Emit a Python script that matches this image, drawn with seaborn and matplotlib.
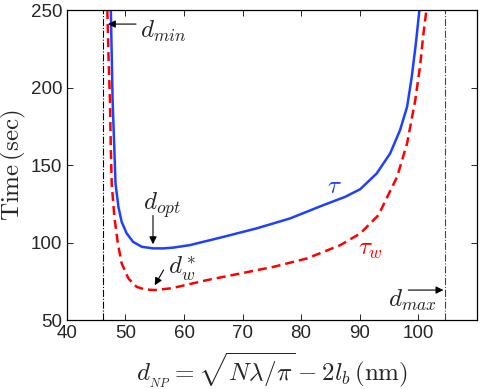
import matplotlib
matplotlib.use("Agg")
import matplotlib.pyplot as plt
import seaborn as sns
import pandas as pd

# values
tau_x = [47.5, 47.8, 48.1, 48.3, 48.8, 49.35, 50.2, 51.3, 52.8, 54.75, 56.5, 58.2,
         61.0, 66.7, 72.4, 78.1, 83.8, 87.5, 90.1, 92.9, 95.2, 96.9, 98.1, 98.9,
         99.6, 100.2]
tau_y = [250, 192, 160, 138, 123, 113.4, 106, 100.5, 97.3, 96.3, 96.3, 96.8,
         98.4, 103.7, 109.2, 115.6, 124.2, 129.5, 134.5, 144.6, 157.5, 172.6, 187.6, 207,
         228.5, 250]

tauw_x = [46.9, 47.1, 47.35, 47.5, 47.65, 48.1, 48.7, 49.35, 50.5, 51.9, 53.3, 55.0,
          57.9, 63.9, 69.6, 75.3, 81.0, 86.7, 90.1, 93.2, 96.4, 98.1, 99.5, 100.3,
          100.9, 101.4]
tauw_y = [250, 220, 192, 160, 138, 116.7, 99.5, 86.6, 76.9, 71.5, 69.8, 69.4,
          70.6, 75.8, 80.1, 84.4, 89.8, 98.4, 105.9, 117.7, 142.5, 164, 192, 213.4,
          235, 250]

d_min = 46.2
d_max = 104.6

x_ticks = [40, 50, 60, 70, 80, 90, 100]
y_ticks = [50, 100, 150, 200, 250]

sns.set_style("ticks")
plt.rcParams['font.family'] = ['Liberation Sans', 'DejaVu Sans']
plt.rcParams['mathtext.fontset'] = 'cm'

df_tau = pd.DataFrame({'x': tau_x, 'y': tau_y})
df_tauw = pd.DataFrame({'x': tauw_x, 'y': tauw_y})

fig = plt.figure(figsize=(4.85, 3.89), dpi=100)
ax = fig.add_axes([0.138, 0.177, 0.845, 0.797])

sns.lineplot(data=df_tau, x='x', y='y', ax=ax, color='#2040ff', linewidth=1.8,
             estimator=None, sort=False)
sns.lineplot(data=df_tauw, x='x', y='y', ax=ax, color='#ff0000', linewidth=1.8,
             linestyle=(0, (3.6, 2.0)), estimator=None, sort=False)

# limits of the valid range
ax.axvline(d_min, color='black', linewidth=0.8, linestyle='-.')
ax.axvline(d_max, color='#444444', linewidth=0.8, linestyle='-.')

ax.set_xlim(40, 110)
ax.set_ylim(50, 250)
ax.set_xticks(x_ticks)
ax.set_yticks(y_ticks)
ax.tick_params(direction='in', top=True, right=True, labelsize=13.5, length=4, width=0.7)
for s in ax.spines.values():
    s.set_linewidth(0.9)
    s.set_color('black')

ax.set_xlabel(r'$d_{_{NP}} = \sqrt{N\lambda/\pi} - 2l_b\,(\mathrm{nm})$', fontsize=18, labelpad=6)
ax.set_ylabel(r'$\mathrm{Time\,(sec)}$', fontsize=18, labelpad=2)

arrow = dict(arrowstyle='-|>', color='black', lw=0.8, mutation_scale=11,
             shrinkA=0, shrinkB=0)

# arrows and their labels
ax.annotate('', xy=(47.0, 241.0), xytext=(51.8, 241.0), arrowprops=arrow)
ax.text(52.5, 236.5, r'$d_{min}$', fontsize=18, ha='left', va='center')

ax.annotate('', xy=(54.7, 99.0), xytext=(54.7, 117.5), arrowprops=arrow)
ax.text(53.0, 124.2, r'$d_{opt}$', fontsize=18, ha='left', va='center')

ax.annotate('', xy=(55.0, 72.5), xytext=(56.5, 82.3), arrowprops=arrow)
ax.text(57.3, 83.0, r'$d_w^*$', fontsize=18, ha='left', va='center')

ax.annotate('', xy=(104.3, 69.4), xytext=(98.3, 69.4), arrowprops=arrow)
ax.text(94.9, 63, r'$d_{max}$', fontsize=18, ha='left', va='center')

ax.text(85.6, 136.5, r'$\tau$', color='#2040ff', fontsize=18, ha='center', va='center')
ax.text(89.7, 95.8, r'$\tau_w$', color='#ff0000', fontsize=18, ha='left', va='center')

plt.savefig('out.png', dpi=100)
